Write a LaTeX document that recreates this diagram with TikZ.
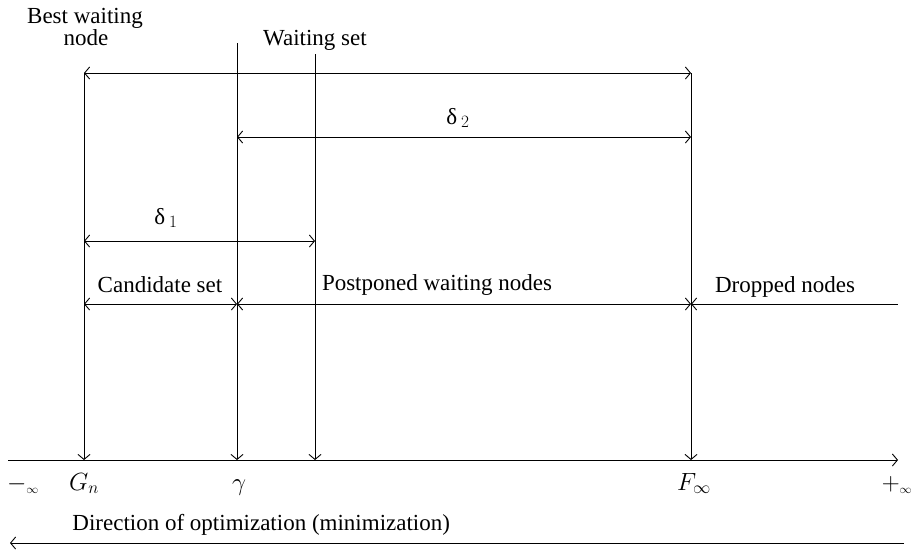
\documentclass[tikz,border=0pt]{standalone}
\usepackage{fontspec}
\setmainfont{Liberation Serif}
\usetikzlibrary{arrows.meta}
\begin{document}
\begin{tikzpicture}[x=1pt,y=-1pt,
  line width=0.9pt,
  >={Straight Barb[length=5pt,width=12pt]},
  lbl/.style={font=\fontsize{23}{27}\selectfont, inner sep=0pt, anchor=base},
  ]
\useasboundingbox (0,0) rectangle (913,550);
% vertical lines
\coordinate (Gtop) at (84,73);   \coordinate (Gbot) at (84,460);
\coordinate (ctop) at (237,43);  \coordinate (cbot) at (237,460);
\coordinate (wtop) at (315,54);  \coordinate (wbot) at (315,460);
\coordinate (Ftop) at (691,73);  \coordinate (Fbot) at (691,460);
\draw[->] (Gtop) -- (Gbot);
\draw[->] (ctop) -- (cbot);
\draw[->] (wtop) -- (wbot);
\draw[->] (Ftop) -- (Fbot);
% horizontal dimension arrows
\coordinate (d2a) at (237,137); \coordinate (d2b) at (691,137);
\coordinate (d1a) at (84,241);  \coordinate (d1b) at (315,241);
\coordinate (ra) at (84,304); \coordinate (rb) at (237,304);
\coordinate (rc) at (691,304); \coordinate (rd) at (898,304);
\draw[<->] (Gtop) -- (Ftop);
\draw[<->] (d2a) -- (d2b);
\draw[<->] (d1a) -- (d1b);
\draw[<->] (ra) -- (rb);
\draw[<->] (rb) -- (rc);
\draw[<-] (rc) -- (rd);
% axis
\coordinate (axL) at (8,460); \coordinate (axR) at (898,460);
\draw[->] (axL) -- (axR);
\coordinate (dirR) at (904,543); \coordinate (dirL) at (10,543);
\draw[->] (dirR) -- (dirL);
% labels
\node[lbl] (best) at (85,23) {Best waiting};
\node[lbl] (bnode) at (86,45) {node};
\node[lbl] (wset) at (315,45) {Waiting set};
\node[lbl] (delta2) at (458,124) {δ\,$_2$};
\node[lbl] (delta1) at (166,224) {δ\,$_1$};
\node[lbl] (cand) at (160,292) {Candidate set};
\node[lbl] (post) at (437,290) {Postponed waiting nodes};
\node[lbl] (drop) at (785,292) {Dropped nodes};
\node[lbl] (minf) at (23,490) {$-_{\scriptscriptstyle\infty}$};
\node[lbl] (Gn) at (84,490) {$G_n$};
\node[lbl] (gam) at (239,490) {$\gamma$};
\node[lbl] (Finf) at (694,490) {$F_{\infty}$};
\node[lbl] (pinf) at (897,490) {$+_{\scriptscriptstyle\infty}$};
\node[lbl, anchor=base west] (dir) at (72,530) {Direction of optimization (minimization)};
\end{tikzpicture}
\end{document}
